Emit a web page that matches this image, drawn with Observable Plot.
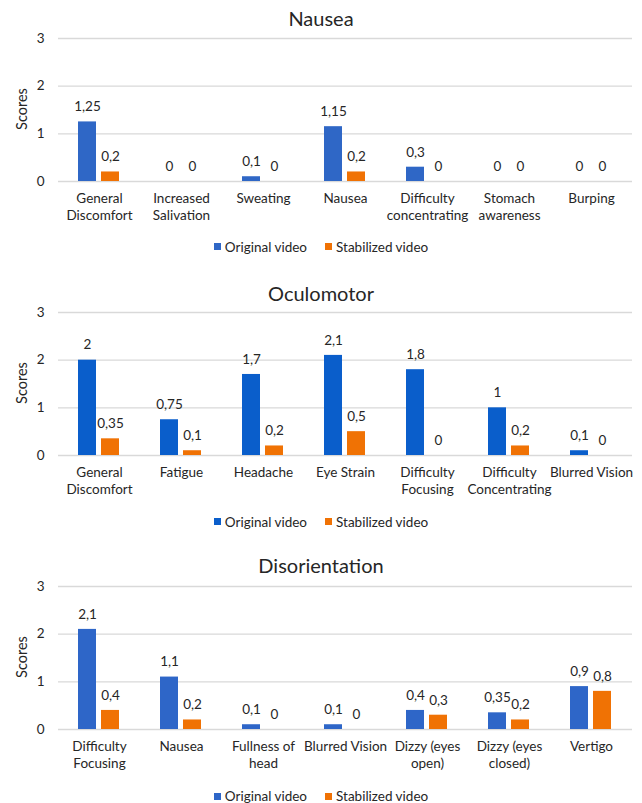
<!DOCTYPE html>
<html>
<head>
<meta charset="utf-8">
<script src="https://cdn.jsdelivr.net/npm/d3@7"></script>
<script src="https://cdn.jsdelivr.net/npm/@observablehq/plot@0.6"></script>
<style>
  html, body { margin: 0; padding: 0; background: #fff; }
  body { position: relative; width: 642px; height: 803px; overflow: hidden; font-family: Lato, "Open Sans", sans-serif; color: #262626; }
  .title { position: absolute; left: 0; width: 642px; text-align: center; font-size: 20px; line-height: 24px; }
  .chart { position: absolute; left: 0; }
  .ylabel { position: absolute; width: 80px; height: 18px; line-height: 18px; text-align: center; font-size: 14.5px; transform: rotate(-90deg); }
  .legend { position: absolute; left: 0; width: 642px; display: flex; justify-content: center; font-size: 13.5px; line-height: 18px; }
  .legend .item { display: flex; align-items: center; margin: 0 9px; }
  .legend .sw { width: 7px; height: 7px; margin-right: 4px; }
</style>
</head>
<body>
<script>
// Series shown in every panel
const series = ["Original video", "Stabilized video"];
const orange = "#f07204";

// Nausea subscale
const nauseaCategories = ["General\nDiscomfort", "Increased\nSalivation", "Sweating", "Nausea", "Difficulty\nconcentrating", "Stomach\nawareness", "Burping"];
const nauseaOriginal = [1.25, 0, 0.1, 1.15, 0.3, 0, 0];
const nauseaStabilized = [0.2, 0, 0, 0.2, 0, 0, 0];

// Oculomotor subscale
const oculomotorCategories = ["General\nDiscomfort", "Fatigue", "Headache", "Eye Strain", "Difficulty\nFocusing", "Difficulty\nConcentrating", "Blurred Vision"];
const oculomotorOriginal = [2, 0.75, 1.7, 2.1, 1.8, 1, 0.1];
const oculomotorStabilized = [0.35, 0.1, 0.2, 0.5, 0, 0.2, 0];

// Disorientation subscale
const disorientationCategories = ["Difficulty\nFocusing", "Nausea", "Fullness of\nhead", "Blurred Vision", "Dizzy (eyes\nopen)", "Dizzy (eyes\nclosed)", "Vertigo"];
const disorientationOriginal = [2.1, 1.1, 0.1, 0.1, 0.4, 0.35, 0.9];
const disorientationStabilized = [0.4, 0.2, 0, 0, 0.3, 0.2, 0.8];

const yTicks = [0, 1, 2, 3];
const yLabel = "Scores";

// Decimal comma, as in the source labels
const fmt = v => String(v).replace(".", ",");

const panels = [
  {title: "Nausea", cats: nauseaCategories, a: nauseaOriginal, b: nauseaStabilized, blue: "#2f67c6", titleY: 18.3, gridTop: 37.7, legendY: 246.7},
  {title: "Oculomotor", cats: oculomotorCategories, a: oculomotorOriginal, b: oculomotorStabilized, blue: "#0a5ecb", titleY: 292.7, gridTop: 311.7, legendY: 521.7},
  {title: "Disorientation", cats: disorientationCategories, a: disorientationOriginal, b: disorientationStabilized, blue: "#2e66c8", titleY: 565, gridTop: 585.7, legendY: 796}
];

const marginTop = 10;
const plotHeight = 143;

for (const p of panels) {
  const rows = p.cats.flatMap((c, i) => [
    {category: c, series: series[0], value: p.a[i]},
    {category: c, series: series[1], value: p.b[i]}
  ]);

  const title = document.createElement("div");
  title.className = "title";
  title.style.top = (p.titleY - 12) + "px";
  title.textContent = p.title;
  document.body.appendChild(title);

  const chart = Plot.plot({
    width: 642,
    height: marginTop + plotHeight + 50,
    marginTop,
    marginBottom: 50,
    marginLeft: 56,
    marginRight: 8,
    style: {fontFamily: "Lato, 'Open Sans', sans-serif", fontSize: "13.5px", color: "#262626", background: "transparent"},
    fx: {domain: p.cats, padding: 0, label: null},
    x: {domain: series, paddingInner: 0.2, paddingOuter: 0.865, axis: null},
    y: {domain: [0, 3]},
    color: {domain: series, range: [p.blue, orange]},
    marks: [
      Plot.gridY(yTicks, {stroke: "#d9d9d9", strokeOpacity: 1, strokeWidth: 1.3}),
      Plot.axisY({ticks: yTicks, tickFormat: d => String(d), tickSize: 0, tickPadding: 14, label: null, fontSize: 13.5}),
      Plot.axisFx({anchor: "bottom", tickSize: 0, tickPadding: 9, label: null, lineHeight: 1.27, fontSize: 13.5}),
      Plot.barY(rows, {fx: "category", x: "series", y: "value", fill: "series"}),
      Plot.text(rows, {fx: "category", x: "series", y: "value", text: d => fmt(d.value), dy: -15, fontSize: 13.5, fill: "#262626"})
    ]
  });
  chart.classList.add("chart");
  chart.style.top = (p.gridTop - marginTop) + "px";
  document.body.appendChild(chart);

  // Vertical axis title, centred on the plotting frame
  const yl = document.createElement("div");
  yl.className = "ylabel";
  yl.textContent = yLabel;
  yl.style.left = (22 - 40) + "px";
  yl.style.top = (p.gridTop + plotHeight / 2 - 9) + "px";
  document.body.appendChild(yl);

  const color = chart.scale("color");
  const legend = document.createElement("div");
  legend.className = "legend";
  legend.style.top = (p.legendY - 9) + "px";
  color.domain.forEach((s, i) => {
    const item = document.createElement("span");
    item.className = "item";
    const sw = document.createElement("span");
    sw.className = "sw";
    sw.style.background = color.range[i];
    item.appendChild(sw);
    item.appendChild(document.createTextNode(s));
    legend.appendChild(item);
  });
  document.body.appendChild(legend);
}
</script>
</body>
</html>
